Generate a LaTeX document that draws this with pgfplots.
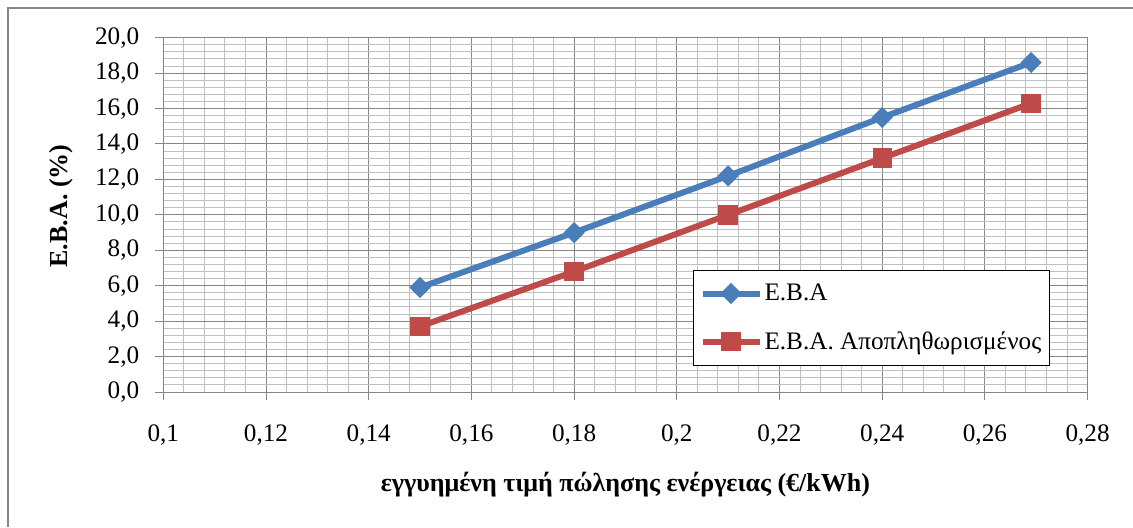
\documentclass[border=0pt]{standalone}
\usepackage{fontspec}
\setmainfont{Liberation Serif}
\usepackage{pgfplots}
\pgfplotsset{compat=1.18}
\definecolor{sblue}{HTML}{4A7EBB}
\definecolor{sred}{HTML}{BE4B48}
\definecolor{majgrid}{HTML}{868686}
\definecolor{mingrid}{HTML}{C0C0C0}
\begin{document}
\begin{tikzpicture}
\useasboundingbox (0,0) rectangle (566.5pt,263.5pt);
\draw[majgrid, line width=0.6pt] (4pt,0pt) -- (4pt,259.5pt) -- (566.5pt,259.5pt);
\begin{axis}[
  at={(81.65pt,67.5pt)}, anchor=south west,
  scale only axis, width=462.15pt, height=177.15pt,
  xmin=0.1, xmax=0.28, ymin=0, ymax=20,
  xtick={0.1,0.12,0.14,0.16,0.18,0.2,0.22,0.24,0.26,0.28},
  ytick={0,2,4,6,8,10,12,14,16,18,20},
  minor x tick num=4, minor y tick num=4,
  grid=both,
  major grid style={majgrid, line width=0.5pt},
  minor grid style={mingrid, line width=0.5pt},
  axis line style={majgrid, line width=0.5pt},
  tick style={majgrid, line width=0.5pt},
  tick align=outside, major tick length=4pt, minor tick length=0pt,
  xtick pos=left, ytick pos=left,
  scaled x ticks=false, scaled y ticks=false,
  /pgf/number format/assume math mode=true,
  ticklabel style={font=\fontsize{12.6}{15}\selectfont},
  x tick label style={yshift=-9pt, /pgf/number format/.cd, fixed, use comma, precision=2},
  y tick label style={xshift=-4.5pt, /pgf/number format/.cd, fixed, fixed zerofill, use comma, precision=1},
  xlabel={εγγυημένη τιμή πώλησης ενέργειας (€/kWh)},
  xlabel style={at={(axis description cs:0.5,-0.262)}, anchor=center, font=\fontsize{13}{15}\selectfont\bfseries},
  ylabel={Ε.Β.Α. (\%)},
  ylabel style={at={(axis description cs:-0.1107,0.525)}, anchor=center, font=\fontsize{13}{15}\selectfont\bfseries},
  legend style={at={(0.573,0.344)}, anchor=north west, draw=black, line width=0.6pt,
    font=\fontsize{12.6}{15}\selectfont, cells={anchor=west}, row sep=10pt,
    inner xsep=3pt, inner ysep=4.5pt,
    nodes={inner xsep=1pt}},
  legend image code/.code={\draw[#1, mark repeat=2, mark phase=2] plot coordinates {(0pt,0pt) (14.25pt,0pt) (28.5pt,0pt)};},
]
\addplot[sblue, line width=3pt, mark=square*, mark size=3.5pt, mark options={rotate=45, line width=0.5pt, solid}]
  coordinates {(0.15,5.9) (0.18,9.0) (0.21,12.2) (0.24,15.5) (0.269,18.6)};
\addlegendentry{Ε.Β.Α}
\addplot[sred, line width=3pt, mark=square*, mark size=4.6pt, mark options={line width=0.5pt, solid}]
  coordinates {(0.15,3.7) (0.18,6.8) (0.21,10.0) (0.24,13.2) (0.269,16.3)};
\addlegendentry{Ε.Β.Α. Αποπληθωρισμένος}
\end{axis}
\end{tikzpicture}
\end{document}
